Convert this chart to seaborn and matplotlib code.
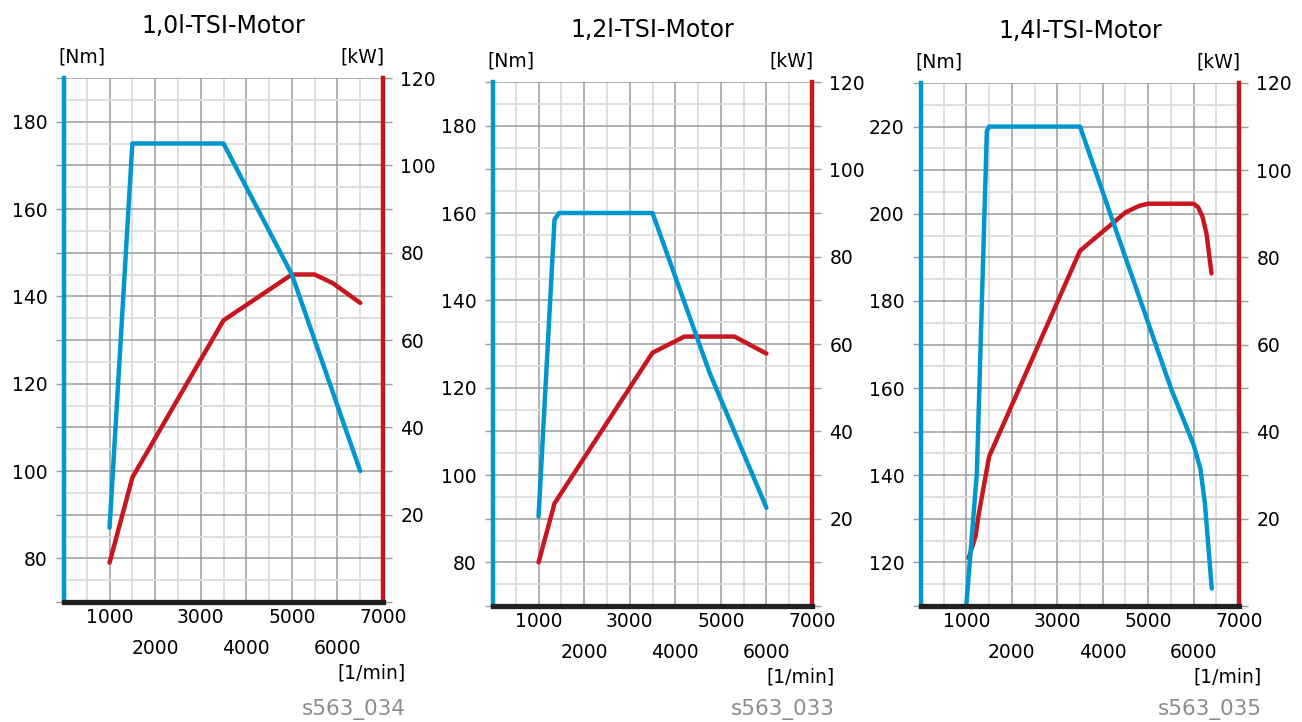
import matplotlib
matplotlib.use("Agg")
import matplotlib.pyplot as plt
from matplotlib.ticker import MultipleLocator, FuncFormatter
import numpy as np
import seaborn as sns

# engine names and figure codes
titles = ["1,0l-TSI-Motor", "1,2l-TSI-Motor", "1,4l-TSI-Motor"]
codes = ["s563_034", "s563_033", "s563_035"]

# 1,0l: torque [Nm] and power [kW] over rpm
rpm_10_nm = [1000, 1500, 3500, 5000, 6500]
nm_10 = [87, 175, 175, 145, 100]
rpm_10_kw = [1000, 1500, 3500, 4500, 5000, 5500, 5900, 6500]
kw_10 = [9, 28.5, 64.5, 71.5, 75, 75, 73, 68.5]

# 1,2l
rpm_12_nm = [1000, 1350, 1450, 3500, 4750, 6000]
nm_12 = [90.5, 158.5, 160, 160, 123.5, 92.5]
rpm_12_kw = [1000, 1350, 3500, 4200, 5300, 6000]
kw_12 = [10, 23.5, 58, 61.7, 61.7, 57.8]

# 1,4l
rpm_14_nm = [1000, 1230, 1450, 1500, 3500, 5500, 6000, 6150, 6250, 6400]
nm_14 = [110.5, 140.5, 219, 220, 220, 160, 147, 141.5, 133.5, 114]
rpm_14_kw = [1050, 1200, 1270, 1500, 3500, 4500, 4800, 5000, 6000, 6100, 6200, 6285, 6395]
kw_14 = [11, 16, 21, 34.3, 81.5, 90.3, 91.8, 92.3, 92.3, 91.5, 89.2, 85.4, 76.3]

nm_limits = [(70, 190), (70, 190), (110, 230)]
kw_limits = (0, 120)
rpm_ticks = [0, 1000, 2000, 3000, 4000, 5000, 6000, 7000]

sns.set_style("white")
plt.rcParams["font.family"] = ["DejaVu Sans"]
plt.rcParams["text.color"] = "black"
plt.rcParams["xtick.color"] = "black"
plt.rcParams["ytick.color"] = "black"

BLUE = "#0096cf"
RED = "#c8161e"
DARK = "#231f20"
GRID = "#9b9b9b"
GRID_MINOR = "#dcdcdc"

W, H = 1302, 722
# axes boxes in pixels: left, top, right, bottom
boxes = [(64, 78, 383, 602), (493, 82, 812, 606), (921, 83, 1239, 606)]


def rpm_label(v):
    if v == 0:
        return ""
    k = int(v) // 1000
    return f"{int(v)}" if k % 2 == 1 else f"\n{int(v)}"


def draw_panel(fig, box, title, code, rpm_t, nm, rpm_p, kw, nm_lim):
    l, t, r, b = box
    ax = fig.add_axes([l / W, 1 - b / H, (r - l) / W, (b - t) / H])
    ax2 = ax.twinx()
    # torque axis in front, power axis (with grid) behind
    ax.set_zorder(2)
    ax2.set_zorder(1)
    ax.patch.set_visible(False)
    ax2.patch.set_visible(True)
    ax2.patch.set_facecolor("white")

    sns.lineplot(x=rpm_p, y=kw, ax=ax2, color=RED, linewidth=3.2,
                 estimator=None, solid_capstyle="round")
    sns.lineplot(x=rpm_t, y=nm, ax=ax, color=BLUE, linewidth=3.2,
                 estimator=None, solid_capstyle="round")

    ax.set_xlim(0, 7000)
    ax.set_ylim(*nm_lim)
    ax2.set_ylim(*kw_limits)
    ax.set_xlabel("")
    ax.set_ylabel("")
    ax2.set_ylabel("")

    # x ticks: staggered labels
    ax.set_xticks(rpm_ticks, [rpm_label(v) for v in rpm_ticks])
    for lab in ax.get_xticklabels():
        lab.set_linespacing(1.8)
    ax.xaxis.set_minor_locator(MultipleLocator(500))
    ax.tick_params(axis="x", which="both", length=0, pad=4, labelsize=13.5,
                   labelcolor="black")

    # y ticks
    lo, hi = nm_lim
    ax.yaxis.set_major_locator(MultipleLocator(10))
    ax.yaxis.set_major_formatter(FuncFormatter(
        lambda v, p: f"{v:.0f}" if v % 20 == 0 and lo < v < hi else ""))
    ax.tick_params(axis="y", which="major", length=6, width=1, color=GRID,
                   pad=6, labelsize=13.5, labelcolor="black")
    ax2.yaxis.set_major_locator(MultipleLocator(10))
    ax2.yaxis.set_minor_locator(MultipleLocator(5))
    ax2.yaxis.set_major_formatter(FuncFormatter(
        lambda v, p: f"{v:.0f}" if v % 20 == 0 and v > 0 else ""))
    ax2.tick_params(axis="y", which="major", length=6.5, width=1, color=GRID,
                    pad=6, labelsize=13.5, labelcolor="black")
    ax2.tick_params(axis="y", which="minor", length=0)

    # grid drawn on the back axes
    ax2.xaxis.set_visible(True)
    ax2.tick_params(axis="x", which="both", length=0, labelbottom=False,
                    labeltop=False)
    ax2.grid(which="minor", color=GRID_MINOR, linewidth=1.3)
    ax2.grid(which="major", color=GRID, linewidth=1.1)

    # spines
    for s in ["top", "right"]:
        ax.spines[s].set_visible(False)
    for s in ["top", "left", "bottom"]:
        ax2.spines[s].set_visible(False)
    ax.spines["left"].set_color(BLUE)
    ax.spines["left"].set_linewidth(3.2)
    ax.spines["bottom"].set_color(DARK)
    ax.spines["bottom"].set_linewidth(3.8)
    ax.spines["bottom"].set_capstyle("projecting")
    ax.spines["bottom"].set_zorder(5)
    ax2.spines["right"].set_color(RED)
    ax2.spines["right"].set_linewidth(3.2)

    # texts
    ax.text(0.5, 1.1, title, transform=ax.transAxes, ha="center", va="center",
            fontsize=17, color="black")
    ax.text(-0.018, 1.04, "[Nm]", transform=ax.transAxes, ha="left",
            va="center", fontsize=13.5, color="black")
    ax.text(1.005, 1.04, "[kW]", transform=ax.transAxes, ha="right",
            va="center", fontsize=13.5, color="black")
    ax.text(1.07, -0.136, "[1/min]", transform=ax.transAxes, ha="right",
            va="center", fontsize=13.5, color="black")
    fig.text((r + 23) / W, 1 - 710 / H, code, ha="right", va="center",
             fontsize=15.5, color="#8c8c8c")


fig = plt.figure(figsize=(W / 100, H / 100), dpi=100)
panels = [
    (rpm_10_nm, nm_10, rpm_10_kw, kw_10),
    (rpm_12_nm, nm_12, rpm_12_kw, kw_12),
    (rpm_14_nm, nm_14, rpm_14_kw, kw_14),
]
for i, (rt, nm, rp, kw) in enumerate(panels):
    draw_panel(fig, boxes[i], titles[i], codes[i], rt, nm, rp, kw, nm_limits[i])

fig.savefig("out.png", dpi=100)
